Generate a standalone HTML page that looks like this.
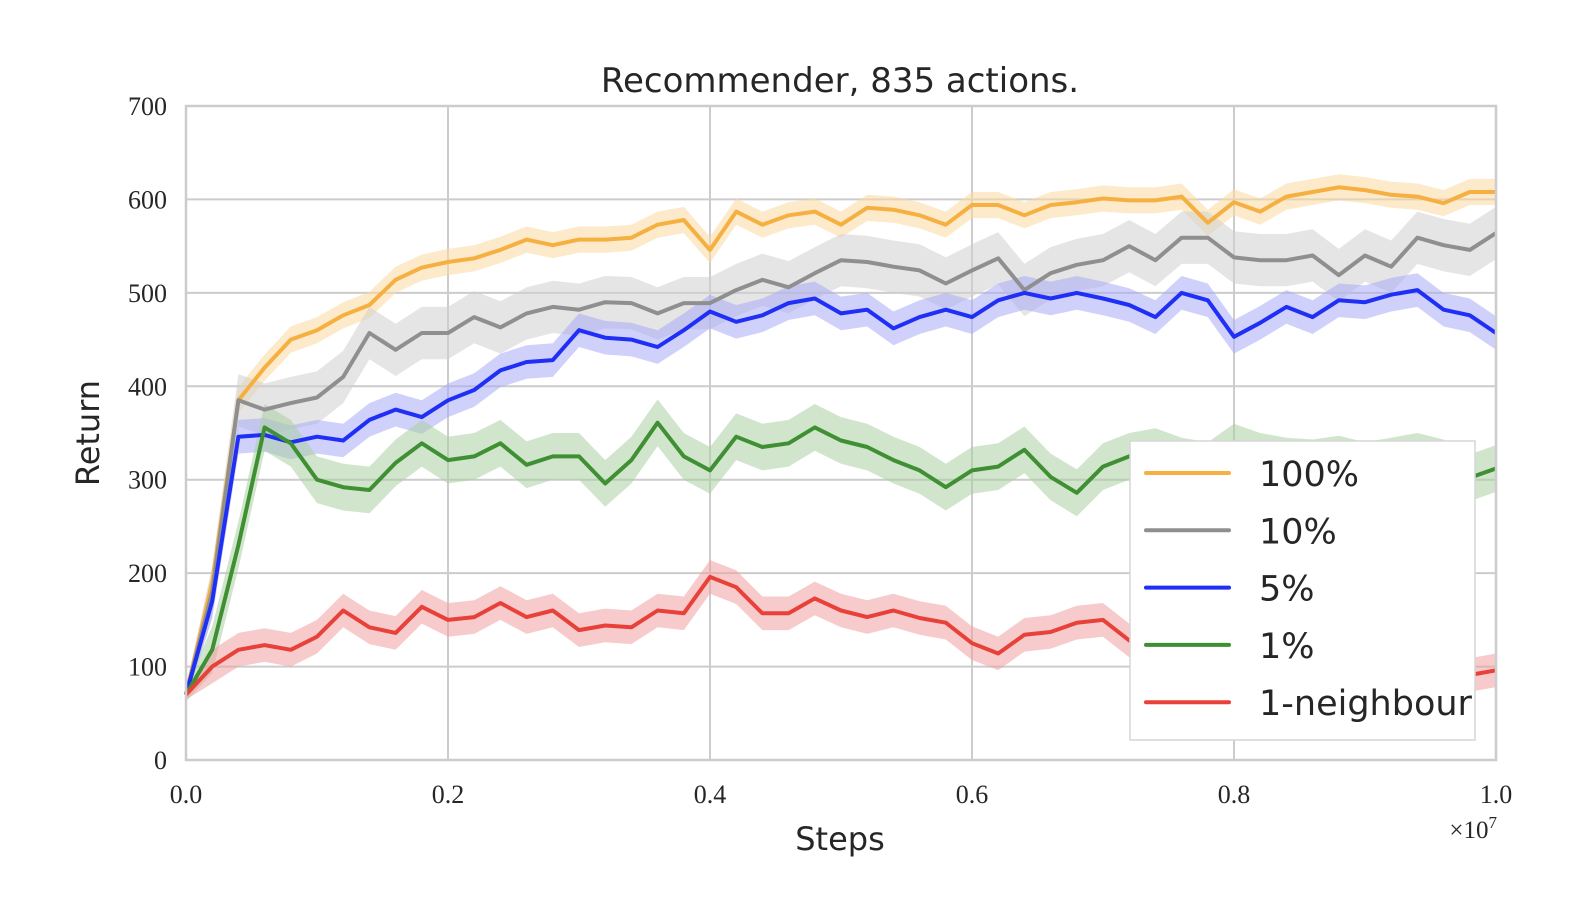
<!DOCTYPE html>
<html><head><meta charset="utf-8"><style>
html,body{margin:0;padding:0;background:#fff;overflow:hidden;width:1576px;height:898px;}
svg{display:block;}
.sans{font-family:"DejaVu Sans","Liberation Sans",sans-serif;fill:#262626;}
.serif{font-family:"Liberation Serif",serif;fill:#262626;}
</style></head><body>
<svg id="chart" width="1576" height="898" viewBox="0 0 1576 898" xmlns="http://www.w3.org/2000/svg">
<text class="sans" x="840" y="92" font-size="34" text-anchor="middle">Recommender, 835 actions.</text>
<g id="grid"></g>
<g id="bands"></g>
<g id="lines"></g>
<g id="axes"></g>
<text class="sans" x="840" y="850" font-size="32" text-anchor="middle">Steps</text>
<text class="sans" x="0" y="0" font-size="32" text-anchor="middle" transform="translate(99,433) rotate(-90)">Return</text>
<text class="serif" x="1497" y="838" font-size="25" text-anchor="end">×10<tspan dy="-10" font-size="17">7</tspan></text>
<g>
<rect x="1130" y="441" width="345" height="299" fill="#fff" stroke="#d6d6d6" stroke-width="1.5"/>
<g id="legend-entries"></g>
</g>
</svg>
<script>
const xTicks = [0, 0.2, 0.4, 0.6, 0.8, 1.0];
const xTickLabels = ["0.0", "0.2", "0.4", "0.6", "0.8", "1.0"];
const yTicks = [0, 100, 200, 300, 400, 500, 600, 700];
const steps = [0,0.02,0.04,0.06,0.08,0.10,0.12,0.14,0.16,0.18,0.20,0.22,0.24,0.26,0.28,0.30,0.32,0.34,0.36,0.38,0.40,0.42,0.44,0.46,0.48,0.50,0.52,0.54,0.56,0.58,0.60,0.62,0.64,0.66,0.68,0.70,0.72,0.74,0.76,0.78,0.80,0.82,0.84,0.86,0.88,0.90,0.92,0.94,0.96,0.98,1.00];
const seriesNames = ["100%", "10%", "5%", "1%", "1-neighbour"];
const seriesColors = ["#f5b041", "#8f8f8f", "#1f2ff5", "#3f8f33", "#e8413a"];
const bandColors = ["#f9d9a0", "#cfcfcf", "#a9abf5", "#a9cfa2", "#f0a0a0"];
const bandHalf = [14, 28, 18, 25, 18];
const v100 = [70,190,385,420,450,460,476,487,514,527,533,537,546,557,551,557,557,559,573,578,546,587,573,583,587,573,591,589,583,573,594,594,583,594,597,601,599,599,603,575,597,587,603,608,613,610,605,603,596,608,608];
const v10 = [70,180,385,375,382,388,410,457,439,457,457,474,463,478,485,482,490,489,478,489,489,503,514,506,521,535,533,528,524,510,524,537,503,521,530,535,550,535,559,559,538,535,535,540,519,540,528,559,551,546,564];
const v5 = [70,170,346,348,340,346,342,364,375,367,385,396,417,426,428,460,452,450,442,460,480,469,476,489,494,478,482,462,474,482,474,492,500,494,500,494,487,474,500,492,453,468,485,474,492,490,498,503,482,476,457];
const v1 = [70,118,230,356,339,300,292,289,318,339,321,325,339,316,325,325,296,321,361,325,310,346,335,339,356,342,335,321,310,292,310,314,332,303,286,314,325,330,320,315,335,325,320,318,322,315,320,325,318,302,312];
const v1n = [70,100,118,123,118,132,160,142,136,164,150,153,168,153,160,139,144,142,160,157,196,185,157,157,173,160,153,160,152,147,125,114,134,137,147,150,128,140,135,125,118,122,120,112,108,110,105,100,98,91,96];
const seriesValues = [v100, v10, v5, v1, v1n];

const X0 = 186, X1 = 1496, Y0 = 760, Y1 = 106;
function xScale(t){ return X0 + t * (X1 - X0); }
function yScale(v){ return Y0 - v / 700 * (Y0 - Y1); }
const NS = "http://www.w3.org/2000/svg";
function mk(tag, parent){ const e = document.createElementNS(NS, tag); parent.appendChild(e); return e; }

const grid = document.getElementById('grid');
yTicks.forEach(v => {
  const l = mk('line', grid);
  
  
  l.setAttribute('x1', X0); l.setAttribute('x2', X1);
  l.setAttribute('y1', yScale(v)); l.setAttribute('y2', yScale(v));
  l.setAttribute('stroke', '#cccccc'); l.setAttribute('stroke-width', '2');
});
xTicks.forEach(t => {
  const l = mk('line', grid);
  
  
  l.setAttribute('x1', xScale(t)); l.setAttribute('x2', xScale(t));
  l.setAttribute('y1', Y1); l.setAttribute('y2', Y0);
  l.setAttribute('stroke', '#cccccc'); l.setAttribute('stroke-width', '2');
});

const axes = document.getElementById('axes');
yTicks.forEach(v => {
  const tx = mk('text', axes);
  
  
  tx.setAttribute('class', 'serif');
  tx.setAttribute('x', 167); tx.setAttribute('y', yScale(v) + 9);
  tx.setAttribute('font-size', '26'); tx.setAttribute('text-anchor', 'end');
  tx.textContent = v;
});
xTicks.forEach((t, i) => {
  const tx = mk('text', axes);
  
  
  tx.setAttribute('class', 'serif');
  tx.setAttribute('x', xScale(t)); tx.setAttribute('y', 803);
  tx.setAttribute('font-size', '26'); tx.setAttribute('text-anchor', 'middle');
  tx.textContent = xTickLabels[i];
});

const bands = document.getElementById('bands');
const lines = document.getElementById('lines');
seriesValues.forEach((vals, s) => {
  let up = [], dn = [];
  vals.forEach((v, i) => {
    up.push(xScale(steps[i]).toFixed(1) + ',' + yScale(Math.min(700, v + bandHalf[s] * (i === 0 ? 0.3 : 1))).toFixed(1));
    dn.push(xScale(steps[i]).toFixed(1) + ',' + yScale(v - bandHalf[s] * (i === 0 ? 0.3 : 1)).toFixed(1));
  });
  const b = mk('polygon', bands);
  
  
  b.setAttribute('points', up.concat(dn.reverse()).join(' '));
  b.setAttribute('fill', bandColors[s]); b.setAttribute('fill-opacity', '0.55');
});
seriesValues.forEach((vals, s) => {
  const p = mk('polyline', lines);
  
  
  p.setAttribute('points', vals.map((v, i) => xScale(steps[i]).toFixed(1) + ',' + yScale(v).toFixed(1)).join(' '));
  p.setAttribute('fill', 'none'); p.setAttribute('stroke', seriesColors[s]);
  p.setAttribute('stroke-width', '4'); p.setAttribute('stroke-linejoin', 'round');
});

const frame = mk('rect', axes);


frame.setAttribute('x', X0); frame.setAttribute('y', Y1);
frame.setAttribute('width', X1 - X0); frame.setAttribute('height', Y0 - Y1);
frame.setAttribute('fill', 'none'); frame.setAttribute('stroke', '#cccccc'); frame.setAttribute('stroke-width', '2.5');

const le = document.getElementById('legend-entries');
seriesNames.forEach((n, s) => {
  const y = 473 + s * 57.3;
  const l = mk('line', le);
  
  
  l.setAttribute('x1', 1146); l.setAttribute('x2', 1229);
  l.setAttribute('y1', y); l.setAttribute('y2', y);
  l.setAttribute('stroke', seriesColors[s]); l.setAttribute('stroke-width', '4'); l.setAttribute('stroke-linecap', 'round');
  const t = mk('text', le);
  
  
  t.setAttribute('class', 'sans');
  t.setAttribute('x', 1259); t.setAttribute('y', y + 13);
  t.setAttribute('font-size', '35');
  t.textContent = n;
});
</script>
</body></html>
